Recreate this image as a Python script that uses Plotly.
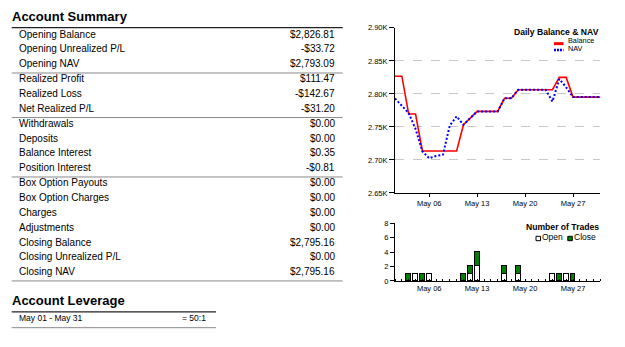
import plotly.graph_objects as go

W, H = 625, 347
FONT = "Liberation Sans, Arial, sans-serif"

# ---------------- data ----------------
summary_labels = [
    "Opening Balance", "Opening Unrealized P/L", "Opening NAV",
    "Realized Profit", "Realized Loss", "Net Realized P/L",
    "Withdrawals", "Deposits", "Balance Interest", "Position Interest",
    "Box Option Payouts", "Box Option Charges", "Charges", "Adjustments",
    "Closing Balance", "Closing Unrealized P/L", "Closing NAV",
]
summary_values = [
    "$2,826.81", "-$33.72", "$2,793.09",
    "$111.47", "-$142.67", "-$31.20",
    "$0.00", "$0.00", "$0.35", "-$0.81",
    "$0.00", "$0.00", "$0.00", "$0.00",
    "$2,795.16", "$0.00", "$2,795.16",
]
group_ends = [2, 5, 9, 16]
leverage_period = "May 01 - May 31"
leverage_value = "= 50:1"

dates = ["2012-05-%02d" % d for d in range(1, 32)]
balance = [2826.81, 2826.81, 2769.5, 2769.5, 2713.6, 2713.6, 2713.6, 2713.6,
           2713.6, 2713.6, 2753.3, 2763.5, 2773.5, 2773.5, 2773.5, 2773.5,
           2793.5, 2793.5, 2806.3, 2806.3, 2806.3, 2806.3, 2806.3, 2806.3,
           2825.0, 2825.0, 2795.16, 2795.16, 2795.16, 2795.16, 2795.16]
nav = [2793.09, 2782.0, 2771.0, 2747.0, 2713.0, 2702.5, 2706.0, 2708.0,
       2752.0, 2766.0, 2753.3, 2763.5, 2773.5, 2773.5, 2773.5, 2773.5,
       2793.5, 2793.5, 2806.3, 2806.3, 2806.3, 2806.3, 2806.3, 2788.5,
       2822.5, 2810.0, 2795.16, 2795.16, 2795.16, 2795.16, 2795.16]

trade_days = ["2012-05-03", "2012-05-04", "2012-05-05", "2012-05-06",
              "2012-05-11", "2012-05-12", "2012-05-13", "2012-05-17",
              "2012-05-19", "2012-05-24", "2012-05-25", "2012-05-26",
              "2012-05-27"]
open_trades = [0, 1, 0, 1, 0, 1, 2, 1, 1, 1, 0, 1, 0]
close_trades = [1, 0, 1, 0, 1, 1, 2, 1, 1, 0, 1, 0, 1]

bal_ticks = [2650, 2700, 2750, 2800, 2850, 2900]
bal_tick_text = ["2.65K", "2.70K", "2.75K", "2.80K", "2.85K", "2.90K"]
date_ticks = ["2012-05-06", "2012-05-13", "2012-05-20", "2012-05-27"]
date_tick_text = ["May 06", "May 13", "May 20", "May 27"]
trade_ticks = [0, 2, 4, 6, 8]


def px(x):
    return x / W


def py(y):
    return 1 - y / H


DAY_MS = 86400000

fig = go.Figure()
fig.add_trace(go.Scatter(x=dates, y=balance, mode="lines", name="Balance",
                         line=dict(color="#FF0000", width=1.6),
                         xaxis="x", yaxis="y", showlegend=False))
fig.add_trace(go.Scatter(x=dates, y=nav, mode="lines", name="NAV",
                         line=dict(color="#0000FF", width=2, dash="2px,2px"),
                         xaxis="x", yaxis="y", showlegend=False))
fig.add_trace(go.Bar(x=trade_days, y=[v if v else None for v in open_trades],
                     name="Open", width=0.7 * DAY_MS,
                     marker=dict(color="white", line=dict(color="black", width=1)),
                     xaxis="x2", yaxis="y2", showlegend=False))
fig.add_trace(go.Bar(x=trade_days, y=[v if v else None for v in close_trades],
                     name="Close", width=0.7 * DAY_MS,
                     marker=dict(color="#008000", line=dict(color="black", width=1)),
                     xaxis="x2", yaxis="y2", showlegend=False))

tickfont = dict(family=FONT, size=7.5, color="black")
xdom = [px(395), px(600.4)]

fig.update_layout(
    width=W, height=H,
    margin=dict(l=0, r=0, t=0, b=0),
    paper_bgcolor="white", plot_bgcolor="white",
    barmode="stack", bargap=0,
    font=dict(family=FONT, color="black"),
    xaxis=dict(domain=xdom, anchor="y", range=[dates[0], dates[-1]],
               showgrid=False, zeroline=False, showline=True,
               linecolor="black", linewidth=1, ticks="outside", ticklen=3,
               tickcolor="black", tickmode="array", tickvals=date_ticks,
               ticktext=date_tick_text, tickfont=tickfont),
    yaxis=dict(domain=[py(194), py(24.5)], anchor="x", range=[2650, 2900],
               showgrid=True, gridcolor="#c8c8c8", griddash="dash",
               gridwidth=1, zeroline=False, showline=True,
               linecolor="black", linewidth=1, ticks="outside", ticklen=5,
               tickcolor="black", tickmode="array", tickvals=bal_ticks,
               ticktext=bal_tick_text, tickfont=tickfont),
    xaxis2=dict(domain=xdom, anchor="y2", range=[dates[0], dates[-1]],
                showgrid=False, zeroline=False, showline=True,
                linecolor="black", linewidth=1, ticks="", tickmode="array",
                tickvals=date_ticks, ticktext=date_tick_text, tickfont=tickfont,
                minor=dict(ticks="inside", ticklen=2, tickcolor="black",
                           dtick=DAY_MS, tick0=dates[0], showgrid=False)),
    yaxis2=dict(domain=[py(284.3), py(225)], anchor="x2", range=[0, 8],
                showgrid=False, zeroline=False, showline=True,
                linecolor="black", linewidth=1, ticks="outside", ticklen=4,
                tickcolor="black", tickmode="array", tickvals=trade_ticks,
                tickfont=tickfont),
)

annotations = []
shapes = []
TEXT_DY = -1.8


def text(x, y, s, size, anchor="left", bold=False, color="black"):
    annotations.append(dict(
        x=px(x), y=py(y + TEXT_DY), xref="paper", yref="paper",
        text=("<b>%s</b>" % s) if bold else s, showarrow=False,
        xanchor=anchor, yanchor="middle",
        font=dict(family=FONT, size=size, color=color), borderpad=0))


def hline(x0, x1, y, color, width):
    shapes.append(dict(type="line", xref="paper", yref="paper",
                       x0=px(x0), x1=px(x1), y0=py(y), y1=py(y),
                       line=dict(color=color, width=width)))


# Account Summary table
text(11, 15, "Account Summary", 13, bold=True)
hline(11.7, 342.7, 24.3, "#222222", 1.2)
row0, step = 32.7, 15.25
for i, (lab, val) in enumerate(zip(summary_labels, summary_values)):
    y = row0 + i * step
    text(17.5, y, lab, 10)
    text(335.5, y, val, 10, anchor="right")
for i in group_ends:
    hline(11.7, 342.7, row0 + i * step + step / 2, "#8a8a8a", 1)

# Account Leverage
text(11, 306, "Account Leverage", 13, bold=True)
hline(11.7, 216, 316, "#222222", 1.2)
text(17.5, 324.5, leverage_period, 8.5)
text(207, 324.5, leverage_value, 8.5, anchor="right")
hline(11.7, 216, 332.3, "#8a8a8a", 1)

# Top legend
text(599.5, 30.5, "Daily Balance &amp; NAV", 8.6, anchor="right", bold=True)
shapes.append(dict(type="line", xref="paper", yref="paper", x0=px(554), x1=px(563.5),
                   y0=py(40.7), y1=py(40.7), line=dict(color="#FF0000", width=3)))
shapes.append(dict(type="line", xref="paper", yref="paper", x0=px(554), x1=px(563.5),
                   y0=py(47.3), y1=py(47.3),
                   line=dict(color="#0000FF", width=2.5, dash="2px,1px")))
text(566.5, 39.0, "Balance", 7.3)
text(566.5, 47.6, "NAV", 7.3)

# Bottom legend
text(600, 231, "Number of Trades", 8.6, anchor="right", bold=True)
shapes.append(dict(type="rect", xref="paper", yref="paper", x0=px(536), x1=px(540.5),
                   y0=py(243), y1=py(238.5), fillcolor="white",
                   line=dict(color="black", width=1)))
text(541, 240.7, "Open", 8.5)
shapes.append(dict(type="rect", xref="paper", yref="paper", x0=px(567.8), x1=px(572.3),
                   y0=py(243), y1=py(238.5), fillcolor="#008000",
                   line=dict(color="black", width=1)))
text(573, 240.7, "Close", 8.5)

fig.update_layout(annotations=annotations, shapes=shapes)
fig.write_html("out.html")
